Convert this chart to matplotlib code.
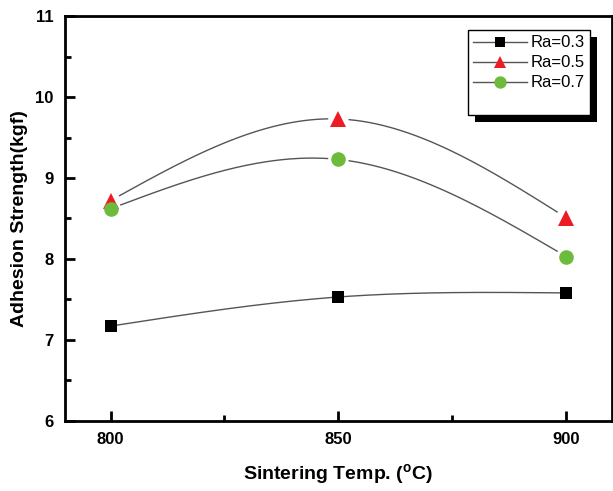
import numpy as np
import matplotlib
matplotlib.use("Agg")
import matplotlib.pyplot as plt
from matplotlib.patches import Rectangle
from matplotlib.ticker import MultipleLocator

plt.rcParams['font.family'] = ['Liberation Sans', 'DejaVu Sans']
plt.rcParams['mathtext.fontset'] = 'custom'
plt.rcParams['mathtext.rm'] = 'Liberation Sans:bold'
plt.rcParams['mathtext.bf'] = 'Liberation Sans:bold'

temps = [800, 850, 900]
labels = ['Ra=0.3', 'Ra=0.5', 'Ra=0.7']
ra03 = [7.17, 7.53, 7.58]
ra05 = [8.72, 9.73, 8.51]
ra07 = [8.62, 9.23, 8.03]

series = [
    (ra03, 's', 'black', 9, 0),
    (ra05, '^', '#ed1c24', 11, 10),
    (ra07, 'o', '#6cbb3c', 10.5, 10),
]


def natural_spline(x, y, xs):
    # natural cubic spline (zero second derivative at both ends)
    x = np.asarray(x, float)
    y = np.asarray(y, float)
    n = len(x)
    h = np.diff(x)
    A = np.zeros((n, n))
    b = np.zeros(n)
    A[0, 0] = A[-1, -1] = 1
    for i in range(1, n - 1):
        A[i, i - 1] = h[i - 1]
        A[i, i] = 2 * (h[i - 1] + h[i])
        A[i, i + 1] = h[i]
        b[i] = 6 * ((y[i + 1] - y[i]) / h[i] - (y[i] - y[i - 1]) / h[i - 1])
    M = np.linalg.solve(A, b)
    idx = np.clip(np.searchsorted(x, xs) - 1, 0, n - 2)
    x0, x1 = x[idx], x[idx + 1]
    hi = h[idx]
    return (M[idx] * (x1 - xs) ** 3 / (6 * hi)
            + M[idx + 1] * (xs - x0) ** 3 / (6 * hi)
            + (y[idx] / hi - M[idx] * hi / 6) * (x1 - xs)
            + (y[idx + 1] / hi - M[idx + 1] * hi / 6) * (xs - x0))


fig = plt.figure(figsize=(6.13, 4.91), dpi=100)
ax = fig.add_axes([0.106, 0.143, 0.892, 0.824])
ax.set_xlim(790, 910)
ax.set_ylim(6, 11)

# smooth curve through the points, with a small gap around the markers
xs = np.linspace(temps[0], temps[-1], 400)
for vals, mk, col, ms, gap in series:
    ys = natural_spline(temps, vals, xs)
    pix = ax.transData.transform(np.column_stack([xs, ys]))
    pts = ax.transData.transform(np.column_stack([temps, vals]))
    keep = np.ones(len(xs), bool)
    for p in pts:
        keep &= np.hypot(*(pix - p).T) > gap
    ys = np.where(keep, ys, np.nan)
    ax.plot(xs, ys, color='#555555', lw=1.0, zorder=2)

handles = []
for vals, mk, col, ms, gap in series:
    ax.plot(temps, vals, linestyle='none', marker=mk, color=col,
            markersize=ms, markeredgewidth=0, zorder=3)
    h, = ax.plot([], [], color='#555555', lw=1.0, marker=mk,
                 markerfacecolor=col, markeredgewidth=0, markersize=ms * 0.85)
    handles.append(h)

blank, = ax.plot([], [], color='none')
leg = ax.legend(handles + [blank], labels + [''], loc='upper right',
                bbox_to_anchor=(0.96, 0.965), frameon=True, fancybox=False,
                framealpha=1, facecolor='white',
                edgecolor='black', fontsize=12, handlelength=3.2,
                handletextpad=0.25, borderpad=0.3, labelspacing=0.3,
                borderaxespad=0)
leg.get_frame().set_linewidth(1.0)
leg.set_zorder(5)

ax.xaxis.set_major_locator(MultipleLocator(50))
ax.xaxis.set_minor_locator(MultipleLocator(25))
ax.yaxis.set_major_locator(MultipleLocator(1))
ax.yaxis.set_minor_locator(MultipleLocator(0.5))
ax.tick_params(which='both', direction='in', top=False, right=False,
               width=2, labelsize=12, pad=8)
ax.tick_params(which='major', length=7)
ax.tick_params(which='minor', length=4)
for t in ax.get_xticklabels() + ax.get_yticklabels():
    t.set_fontweight('bold')
for s in ax.spines.values():
    s.set_linewidth(2)

ax.set_xlabel(r'Sintering Temp. ($^\mathbf{o}$C)', fontsize=14,
              fontweight='bold', labelpad=11)
ax.set_ylabel('Adhesion Strength(kgf)', fontsize=14, fontweight='bold',
              labelpad=5.5)

# solid black drop shadow behind the legend box
fig.canvas.draw()
bb = leg.get_window_extent().transformed(ax.transAxes.inverted())
dx = 7 / ax.bbox.width
dy = 7 / ax.bbox.height
ax.add_patch(Rectangle((bb.x0 + dx, bb.y0 - dy), bb.width, bb.height,
                       transform=ax.transAxes, facecolor='black',
                       edgecolor='none', zorder=4))

fig.savefig('out.png', dpi=100)
